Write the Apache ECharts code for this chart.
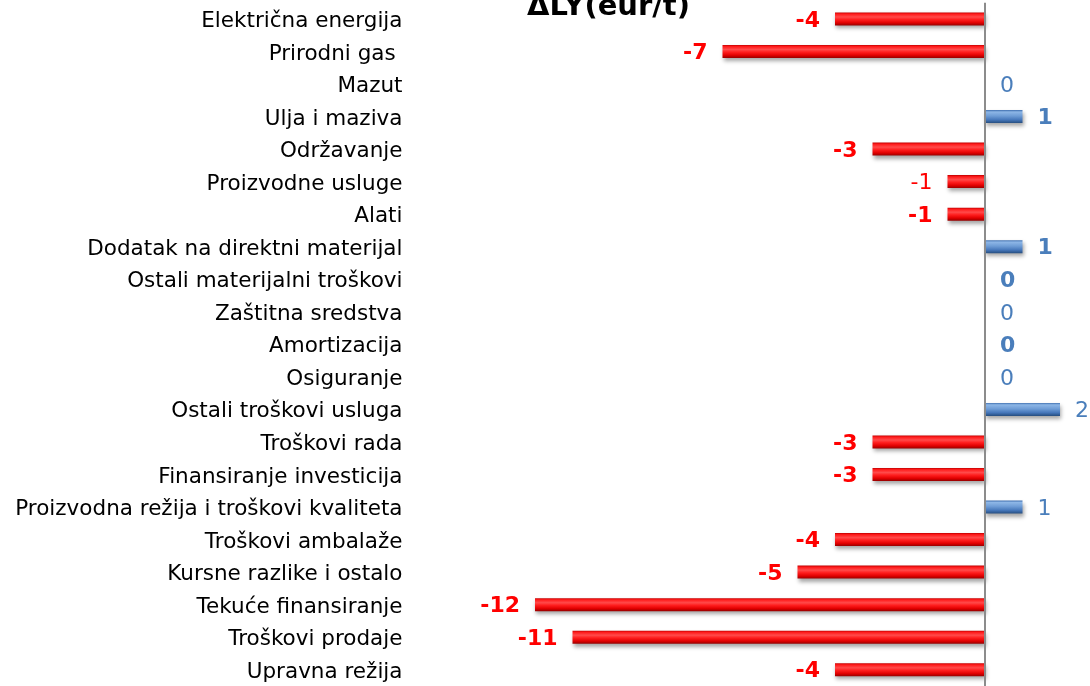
<!DOCTYPE html>
<html>
<head>
<meta charset="utf-8">
<script src="https://cdn.jsdelivr.net/npm/echarts@6/dist/echarts.min.js"></script>
<style>
html,body{margin:0;padding:0;background:#fff;}
#chart{width:1090px;height:686px;}
</style>
</head>
<body>
<div id="chart"></div>
<script>
// Cost categories, top to bottom
const categories = [
  'Električna energija', 'Prirodni gas ', 'Mazut', 'Ulja i maziva', 'Održavanje',
  'Proizvodne usluge', 'Alati', 'Dodatak na direktni materijal', 'Ostali materijalni troškovi',
  'Zaštitna sredstva', 'Amortizacija', 'Osiguranje', 'Ostali troškovi usluga', 'Troškovi rada',
  'Finansiranje investicija', 'Proizvodna režija i troškovi kvaliteta', 'Troškovi ambalaže',
  'Kursne razlike i ostalo', 'Tekuće finansiranje', 'Troškovi prodaje', 'Upravna režija'
];
// Change vs. last year, eur/t
const deltaLY = [-4, -7, 0, 1, -3, -1, -1, 1, 0, 0, 0, 0, 2, -3, -3, 1, -4, -5, -12, -11, -4];
// Rows whose value label is set in bold
const boldRows = [0, 1, 3, 4, 6, 7, 8, 10, 13, 14, 16, 17, 18, 19, 20];

const RED = '#FF0000';
const BLUE = '#4A7EBB';

// Bevelled look for the bars: dark rim, bright highlight, dark lower edge
const redFill = new echarts.graphic.LinearGradient(0, 0, 0, 1, [
  { offset: 0, color: '#C00000' },
  { offset: 0.12, color: '#FF1A1A' },
  { offset: 0.35, color: '#FF4A4A' },
  { offset: 0.55, color: '#FF1E1E' },
  { offset: 0.8, color: '#E00000' },
  { offset: 1, color: '#960000' }
]);
const blueFill = new echarts.graphic.LinearGradient(0, 0, 0, 1, [
  { offset: 0, color: '#3F6FAF' },
  { offset: 0.15, color: '#8DB6E6' },
  { offset: 0.45, color: '#6F9DD6' },
  { offset: 0.75, color: '#4677BA' },
  { offset: 1, color: '#264E80' }
]);

const seriesData = deltaLY.map((v, i) => {
  const neg = v < 0;
  const bold = boldRows.indexOf(i) >= 0;
  return {
    value: v,
    itemStyle: { color: neg ? redFill : blueFill },
    label: {
      position: neg ? 'left' : 'right',
      color: neg ? RED : BLUE,
      fontWeight: bold ? 'bold' : 'normal'
    }
  };
});

const chart = echarts.init(document.getElementById('chart'), null, { renderer: 'canvas' });
chart.setOption({
  animation: false,
  backgroundColor: '#ffffff',
  title: {
    text: 'ΔLY(eur/t)',
    left: 527,
    top: -7,
    padding: 0,
    textStyle: { fontFamily: 'DejaVu Sans', fontWeight: 'bold', fontSize: 29, color: '#000' }
  },
  grid: { left: 497.5, width: 562.5, top: 2.65, height: 686.7, containLabel: false },
  xAxis: {
    type: 'value',
    min: -13,
    max: 2,
    interval: 1,
    show: false
  },
  yAxis: {
    type: 'category',
    inverse: true,
    data: categories,
    axisLine: { show: false },
    axisTick: { show: false },
    axisLabel: {
      margin: 95,
      color: '#000',
      formatter: (name) => '{c|' + name + '}',
      rich: {
        c: {
          fontFamily: 'DejaVu Sans',
          fontSize: 21.5,
          color: '#000',
          padding: [5, 0, 0, 0]
        }
      }
    }
  },
  series: [{
    type: 'bar',
    data: seriesData,
    barWidth: 13,
    itemStyle: {
      shadowBlur: 4,
      shadowOffsetX: 1,
      shadowOffsetY: 3,
      shadowColor: 'rgba(0,0,0,0.35)'
    },
    label: {
      show: true,
      distance: 15,
      offset: [0, 2],
      fontFamily: 'DejaVu Sans',
      fontSize: 22
    },
    markLine: {
      silent: true,
      symbol: 'none',
      label: { show: false },
      lineStyle: { color: '#8C8C8C', width: 2, type: 'solid' },
      data: [{ xAxis: 0 }]
    }
  }]
});
</script>
</body>
</html>
